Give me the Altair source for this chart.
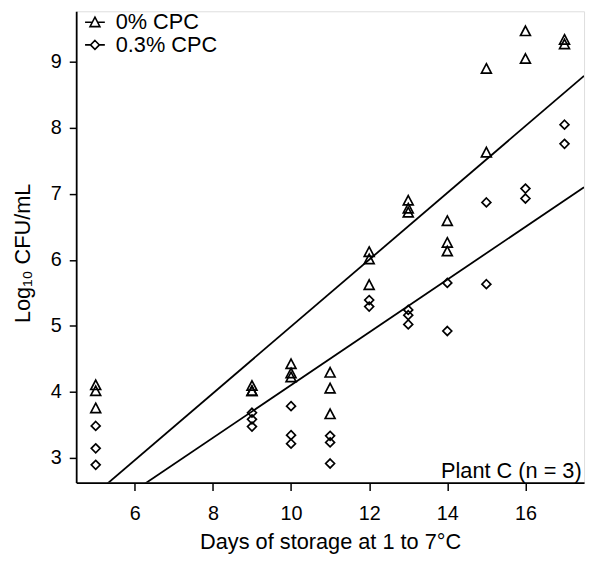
import altair as alt
import pandas as pd

# ---- data ----
groups = ["0% CPC", "0.3% CPC"]

days_0 = [5, 5, 5, 9, 9, 9, 10, 10, 10, 11, 11, 11, 12, 12, 12, 13, 13, 13,
          14, 14, 14, 15, 15, 16, 16, 17, 17]
cfu_0 = [4.10, 4.01, 3.75, 4.09, 4.01, 4.01, 4.42, 4.28, 4.22, 4.29, 4.05, 3.66,
         6.12, 6.01, 5.62, 6.90, 6.78, 6.72, 6.59, 6.26, 6.13, 8.90, 7.63,
         9.47, 9.05, 9.34, 9.27]

days_03 = [5, 5, 5, 9, 9, 9, 10, 10, 10, 11, 11, 11, 12, 12, 13, 13, 13,
           14, 14, 15, 15, 16, 16, 17, 17]
cfu_03 = [3.48, 3.14, 2.89, 3.68, 3.58, 3.47, 3.78, 3.34, 3.21, 3.33, 3.23, 2.91,
          5.39, 5.29, 5.24, 5.16, 5.02, 5.65, 4.92, 6.87, 5.63, 7.08, 6.93,
          8.05, 7.76]

fit_days = [4.5, 17.5]
fit_0 = [2.20, 8.79]
fit_03 = [1.90, 7.10]

x_ticks = [6, 8, 10, 12, 14, 16]
y_ticks = [3, 4, 5, 6, 7, 8, 9]
annotation = ["Plant C (n = 3)"]

# ---- tables ----
df_pts = pd.DataFrame({
    "day": days_0 + days_03,
    "cfu": cfu_0 + cfu_03,
    "group": [groups[0]] * len(days_0) + [groups[1]] * len(days_03),
})
df_fit = pd.DataFrame({
    "day": fit_days + fit_days,
    "cfu": fit_0 + fit_03,
    "group": [groups[0]] * 2 + [groups[1]] * 2,
})
df_txt = pd.DataFrame({"label": annotation})

W, H = 514, 477
FONT = "Liberation Sans"

tri = "M0,-1L1,0.9L-1,0.9Z"
dia = "M0,-0.9L0.9,0L0,0.9L-0.9,0Z"
tri_leg = "M-1,0L-0.28,0M0.28,0L1,0M0,-0.5L0.5,0.45L-0.5,0.45Z"
dia_leg = "M-1,0L-0.45,0M0.45,0L1,0M0,-0.45L0.45,0L0,0.45L-0.45,0Z"

x_scale = alt.Scale(domain=[4.5, 17.5], nice=False, zero=False)
y_scale = alt.Scale(domain=[2.62, 9.77], nice=False, zero=False)

x_axis = alt.Axis(values=x_ticks, title="Days of storage at 1 to 7°C", grid=False,
                  tickSize=8, tickWidth=1.5, labelPadding=29,
                  labelBaseline="alphabetic", labelFontSize=20, labelFlush=False,
                  labelOverlap=False, titleFontSize=22, titleX=W / 2, titleY=67,
                  titleBaseline="alphabetic", titleAlign="center")
y_axis = alt.Axis(values=y_ticks, title="Log₁₀ CFU/mL", grid=False,
                  tickSize=7, tickWidth=1.5, labelPadding=8, labelFontSize=20,
                  labelFlush=False, labelOverlap=False, titleFontSize=22,
                  titleX=-47, titleY=244.5, titleAngle=270,
                  titleBaseline="alphabetic", titleAlign="center")

lines = alt.Chart(df_fit).mark_line(color="black", strokeWidth=1.8, clip=True).encode(
    x=alt.X("day:Q", scale=x_scale, axis=x_axis),
    y=alt.Y("cfu:Q", scale=y_scale, axis=y_axis),
    detail="group:N",
)

pts = alt.Chart(df_pts).mark_point(filled=False, color="black", strokeWidth=1.7,
                                   size=100, opacity=1).encode(
    x=alt.X("day:Q", scale=x_scale, axis=x_axis),
    y=alt.Y("cfu:Q", scale=y_scale, axis=y_axis),
    shape=alt.Shape("group:N", scale=alt.Scale(domain=groups, range=[tri, dia]),
                    legend=None),
)

leg = alt.Chart(df_pts).transform_filter("false").mark_point(
    filled=False, color="black", strokeWidth=1.6, opacity=1
).encode(
    shape=alt.Shape("group:N", scale=alt.Scale(domain=groups, range=[tri_leg, dia_leg]),
                    legend=alt.Legend(title=None, orient="none", legendX=8, legendY=0,
                                      symbolSize=400, symbolStrokeWidth=1.6,
                                      symbolStrokeColor="black",
                                      labelFontSize=22, labelFont=FONT, labelColor="black",
                                      labelOffset=10, rowPadding=1, padding=0,
                                      symbolOffset=0)),
)

txt = alt.Chart(df_txt).mark_text(align="right", baseline="alphabetic", fontSize=22,
                                  font=FONT, color="black").encode(
    x=alt.value(511.6), y=alt.value(472), text="label:N")

chart = alt.layer(lines, pts, leg, txt).resolve_scale(
    shape="independent").resolve_legend(shape="independent").properties(
    width=W, height=H,
    padding={"left": 69, "top": 0, "right": 4, "bottom": 76},
    autosize=alt.AutoSizeParams(type="none"),
).configure_view(stroke=None).configure(font=FONT).configure_axis(
    domainColor="black", domainWidth=1.8, tickColor="black", labelColor="black",
    titleColor="black", titleFontWeight="normal", labelFont=FONT, titleFont=FONT,
)

chart.save("out.html", embed_options={"renderer": "svg", "actions": False})
